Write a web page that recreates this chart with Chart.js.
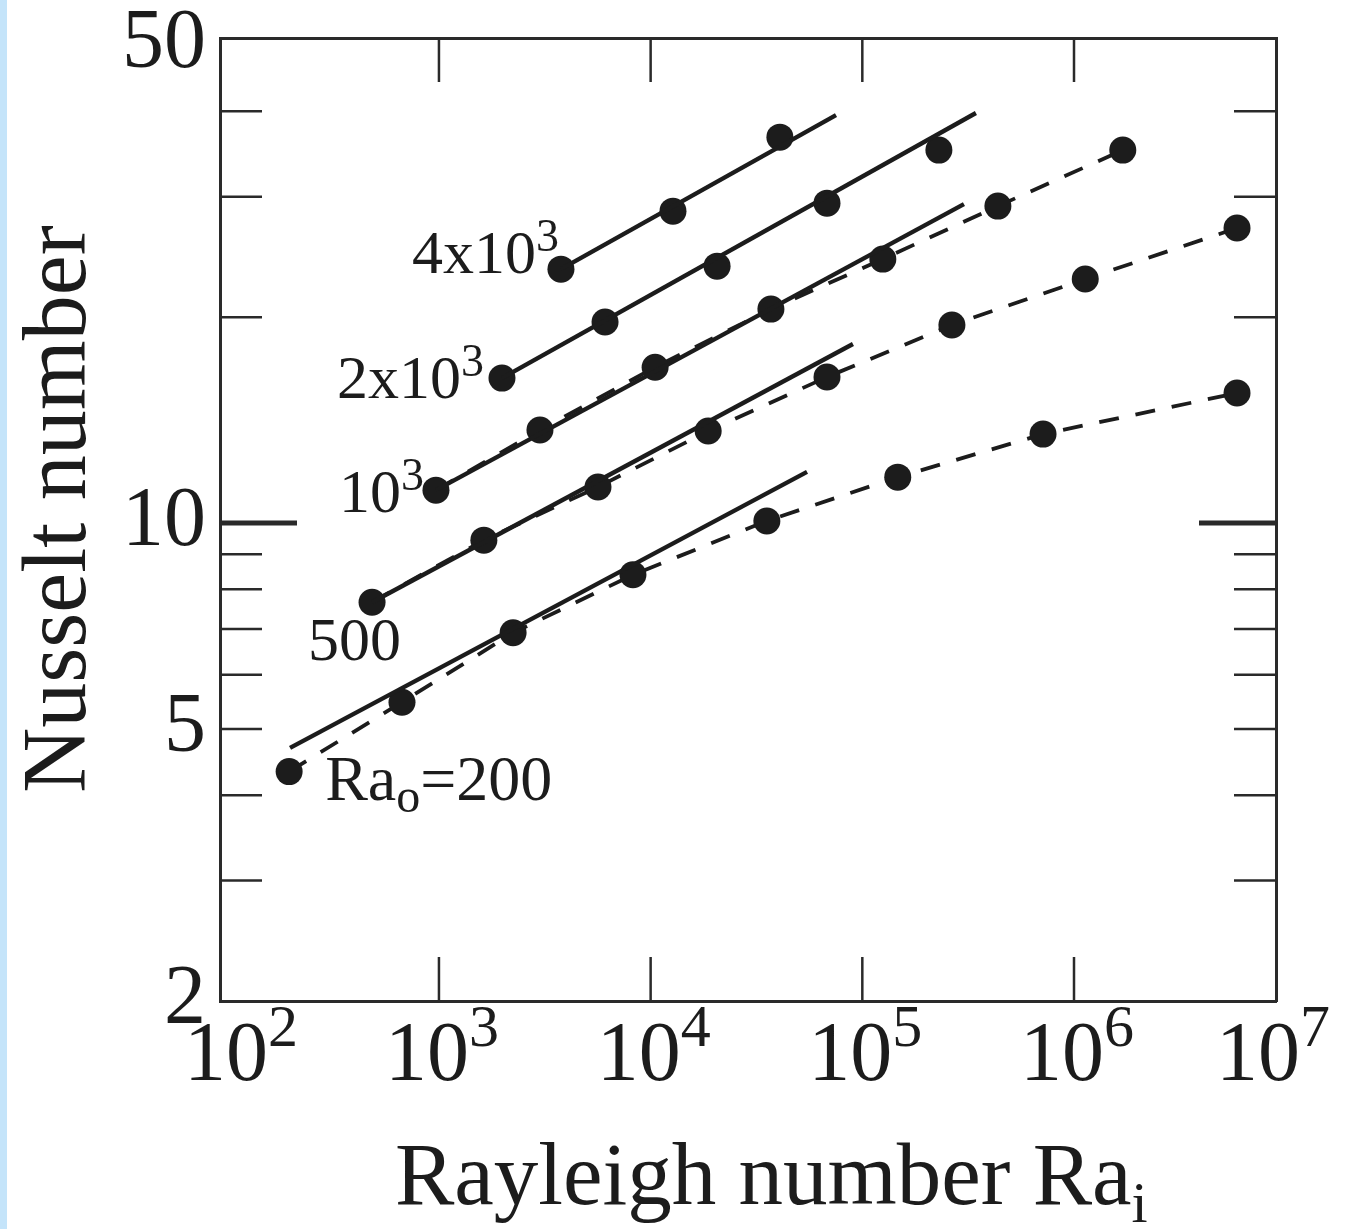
<!DOCTYPE html>
<html>
<head>
<meta charset="utf-8">
<title>Nusselt number vs Rayleigh number</title>
<script src="https://cdn.jsdelivr.net/npm/chart.js@4.4.1/dist/chart.umd.min.js"></script>
<style>
  html, body { margin: 0; padding: 0; background: #fff; }
  #wrap { position: relative; width: 1348px; height: 1229px; }
  #strip { position: absolute; left: 0; top: 0; width: 7px; height: 1229px; background: #c4e4fa; }
  canvas { position: absolute; left: 0; top: 0; }
</style>
</head>
<body>
<div id="wrap"><div id="strip"></div><canvas id="nuChart" width="1348" height="1229"></canvas></div>
<script>
// measured points: Ra_i (x) and Nusselt number (y), one pair of arrays per Ra_o
const ra200X = [196, 669, 2240, 8250, 35400, 147000, 714000, 5.89e6];
const ra200Y = [4.33, 5.47, 6.91, 8.40, 10.07, 11.67, 13.49, 15.49];
const ra500X = [483, 1630, 5640, 18700, 68100, 265000, 1.13e6, 5.89e6];
const ra500Y = [7.66, 9.44, 11.29, 13.63, 16.35, 19.48, 22.74, 27.0];
const ra1kX = [968, 3000, 10500, 37000, 125000, 437000, 1.70e6];
const ra1kY = [11.17, 13.68, 16.9, 20.55, 24.32, 29.07, 35.1];
const ra2kX = [1985, 6090, 20600, 68100, 230000];
const ra2kY = [16.29, 19.68, 23.75, 29.36, 35.1];
const ra4kX = [3770, 12750, 40800];
const ra4kY = [23.51, 28.58, 36.67];

// straight correlation lines (start, end)
const fit200X = [198, 54800];
const fit200Y = [4.69, 11.88];
const fit500X = [483, 90300];
const fit500Y = [7.66, 18.27];
const fit1kX = [968, 302000];
const fit1kY = [11.17, 29.26];
const fit2kX = [1985, 344000];
const fit2kY = [16.29, 39.77];
const fit4kX = [3770, 75100];
const fit4kY = [23.51, 39.5];

// axes
const xTickValues = [1e3, 1e4, 1e5, 1e6];
const xLabelPowers = [2, 3, 4, 5, 6, 7];
const yLabelValues = [2, 5, 10, 50];
const yTickMarks = [3, 4, 5, 6, 7, 8, 9, 10, 20, 30, 40];
const xMin = 92.4, xMax = 9.0e6;
const yMin = 2, yMax = 51.2;

const ink = '#1c1c1c';
const frame = '#2a2a2a';
const serif = '"Liberation Serif", "Times New Roman", serif';

function pts(xs, ys) {
  return xs.map((x, i) => ({ x: x, y: ys[i] }));
}

function pointSet(xs, ys, dashed) {
  return {
    data: pts(xs, ys),
    showLine: dashed,
    borderColor: ink,
    borderWidth: 3.8,
    borderDash: [20, 17],
    backgroundColor: ink,
    pointRadius: 13.5,
    pointBorderWidth: 0,
    pointBackgroundColor: ink
  };
}

function fitSet(xs, ys) {
  return {
    data: pts(xs, ys),
    showLine: true,
    borderColor: ink,
    borderWidth: 4.4,
    pointRadius: 0
  };
}

function drawRuns(ctx, runs, x, y) {
  let cx = x;
  runs.forEach(r => {
    ctx.font = r.size + 'px ' + serif;
    ctx.fillText(r.text, cx, y + (r.dy || 0));
    cx += ctx.measureText(r.text).width;
  });
}

// series labels, placed from each series' first point
const seriesLabels = [
  { xs: ra4kX, ys: ra4kY, dx: -149, dy: 4, runs: [{ text: '4x10', size: 62 }, { text: '3', size: 46, dy: -22 }] },
  { xs: ra2kX, ys: ra2kY, dx: -165, dy: 20, runs: [{ text: '2x10', size: 62 }, { text: '3', size: 46, dy: -22 }] },
  { xs: ra1kX, ys: ra1kY, dx: -97, dy: 22, runs: [{ text: '10', size: 62 }, { text: '3', size: 46, dy: -22 }] },
  { xs: ra500X, ys: ra500Y, dx: -64, dy: 58, runs: [{ text: '500', size: 62 }] },
  { xs: ra200X, ys: ra200Y, dx: 36, dy: 28, runs: [{ text: 'Ra', size: 64 }, { text: 'o', size: 48, dy: 12 }, { text: '=200', size: 64 }] }
];

const inwardTicks = {
  id: 'inwardTicks',
  beforeDatasetsDraw(chart) {
    const { ctx, chartArea: a, scales } = chart;
    ctx.save();
    ctx.strokeStyle = frame;
    const line = (x1, y1, x2, y2) => { ctx.beginPath(); ctx.moveTo(x1, y1); ctx.lineTo(x2, y2); ctx.stroke(); };
    scales.x.ticks.forEach(t => {
      const px = scales.x.getPixelForValue(t.value);
      ctx.lineWidth = 2.5;
      line(px, a.bottom, px, a.bottom - 44);
      line(px, a.top, px, a.top + 44);
    });
    yTickMarks.forEach(v => {
      const py = scales.y.getPixelForValue(v);
      const major = v === 10;
      ctx.lineWidth = major ? 5 : 2.5;
      const len = major ? 77 : 42;
      line(a.left, py, a.left + len, py);
      line(a.right, py, a.right - len, py);
    });
    ctx.restore();
  }
};

const figureText = {
  id: 'figureText',
  afterDraw(chart) {
    const { ctx, scales, chartArea: a } = chart;
    ctx.save();
    ctx.fillStyle = ink;
    ctx.textAlign = 'left';
    ctx.textBaseline = 'alphabetic';

    // x tick labels 10^n (end labels pulled in to the frame corners)
    xLabelPowers.forEach(p => {
      const px = scales.x.getPixelForValue(Math.pow(10, p));
      const cx = Math.min(Math.max(px - 12, a.left + 6), a.right - 18);
      drawRuns(ctx, [{ text: '10', size: 84 }, { text: String(p), size: 60, dy: -34 }], cx - 42, 1080);
    });

    // series labels
    seriesLabels.forEach(l => {
      const px = scales.x.getPixelForValue(l.xs[0]);
      const py = scales.y.getPixelForValue(l.ys[0]);
      drawRuns(ctx, l.runs, px + l.dx, py + l.dy);
    });

    // axis titles
    drawRuns(ctx, [{ text: 'Rayleigh number Ra', size: 89 }, { text: 'i', size: 58, dy: 18 }], 395, 1204);
    ctx.translate(85, 509);
    ctx.rotate(-Math.PI / 2);
    ctx.textAlign = 'center';
    ctx.font = '90px ' + serif;
    ctx.fillText('Nusselt number', 0, 0);
    ctx.restore();
  }
};

const hiddenGrid = { display: false, drawTicks: false };
const frameBorder = { display: true, width: 3, color: frame };

new Chart(document.getElementById('nuChart').getContext('2d'), {
  type: 'scatter',
  data: {
    datasets: [
      fitSet(fit200X, fit200Y),
      fitSet(fit500X, fit500Y),
      fitSet(fit1kX, fit1kY),
      fitSet(fit2kX, fit2kY),
      fitSet(fit4kX, fit4kY),
      pointSet(ra200X, ra200Y, true),
      pointSet(ra500X, ra500Y, true),
      pointSet(ra1kX, ra1kY, true),
      pointSet(ra2kX, ra2kY, false),
      pointSet(ra4kX, ra4kY, false)
    ]
  },
  options: {
    responsive: false,
    devicePixelRatio: 1,
    animation: false,
    layout: { padding: 0 },
    plugins: { legend: { display: false }, tooltip: { enabled: false } },
    scales: {
      x: {
        type: 'logarithmic', position: 'bottom', display: true, min: xMin, max: xMax,
        afterBuildTicks: s => { s.ticks = xTickValues.map(v => ({ value: v })); },
        ticks: { display: false },
        grid: hiddenGrid, border: frameBorder,
        afterFit: s => { s.height = 228; s.paddingLeft = 0; s.paddingRight = 0; }
      },
      x2: {
        type: 'logarithmic', position: 'top', display: true, min: xMin, max: xMax,
        ticks: { display: false },
        grid: hiddenGrid, border: frameBorder,
        afterFit: s => { s.height = 38; s.paddingLeft = 0; s.paddingRight = 0; }
      },
      y: {
        type: 'logarithmic', position: 'left', display: true, min: yMin, max: yMax,
        afterBuildTicks: s => { s.ticks = yLabelValues.map(v => ({ value: v })); },
        ticks: {
          autoSkip: false, padding: 14, color: ink,
          font: { family: serif, size: 84 },
          callback: v => String(v)
        },
        grid: hiddenGrid, border: frameBorder,
        afterFit: s => { s.width = 220; s.paddingTop = 0; s.paddingBottom = 0; }
      },
      y2: {
        type: 'logarithmic', position: 'right', display: true, min: yMin, max: yMax,
        ticks: { display: false },
        grid: hiddenGrid, border: frameBorder,
        afterFit: s => { s.width = 72; s.paddingTop = 0; s.paddingBottom = 0; }
      }
    }
  },
  plugins: [inwardTicks, figureText]
});
</script>
</body>
</html>
